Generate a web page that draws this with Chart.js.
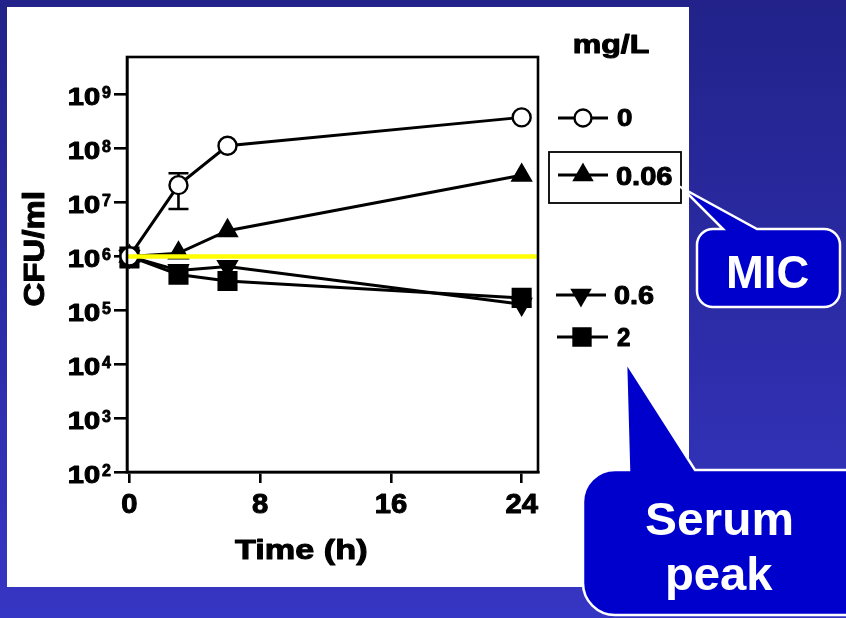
<!DOCTYPE html>
<html><head><meta charset="utf-8">
<script src="https://cdn.jsdelivr.net/npm/chart.js@4.4.1/dist/chart.umd.min.js"></script>
<style>html,body{margin:0;padding:0;background:#2a2aa0;overflow:hidden}canvas{display:block}</style>
</head><body><canvas id="c" width="846" height="618"></canvas>
<script>
// ---- data ----
const times = [0, 3, 6, 24];
const conc0 = [1.0e6, 2.1e7, 1.13e8, 3.8e8];
const conc006 = [1.0e6, 1.15e6, 3.0e6, 3.2e7];
const conc06 = [1.0e6, 5.5e5, 6.5e5, 1.3e5];
const conc2 = [1.0e6, 4.6e5, 3.5e5, 1.7e5];
const err0Low = [6.3e5, 7.6e6, null, null];
const err0High = [1.3e6, 3.5e7, null, null];
const seriesLabels = ['0', '0.06', '0.6', '2'];
const legendTitle = 'mg/L';
const xTicks = [0, 8, 16, 24];
const yExponents = [2, 3, 4, 5, 6, 7, 8, 9];
const inoculum = 1e6;
const xRange = [-0.15, 25];
const yRange = [1e2, Math.pow(10, 9.7)];

const FONT = '"Liberation Sans", Arial, Helvetica, sans-serif';

function spanText(ctx, text, left, right, baseline, size, color, stroke) {
  ctx.save();
  ctx.font = 'bold ' + size + 'px ' + FONT;
  ctx.textAlign = 'left'; ctx.textBaseline = 'alphabetic';
  ctx.fillStyle = color || '#000';
  const m = ctx.measureText(text);
  const vw = m.actualBoundingBoxLeft + m.actualBoundingBoxRight;
  const sx = (right - left) / vw;
  ctx.translate(left + m.actualBoundingBoxLeft * sx, baseline);
  ctx.scale(sx, 1);
  ctx.fillText(text, 0, 0);
  if (stroke) {
    ctx.strokeStyle = color || '#000'; ctx.lineWidth = stroke; ctx.lineJoin = 'round';
    ctx.strokeText(text, 0, 0);
  }
  ctx.restore();
}
function centerText(ctx, text, cx, baseline, size, sx, color, stroke) {
  ctx.save();
  ctx.font = 'bold ' + size + 'px ' + FONT;
  ctx.textAlign = 'center'; ctx.textBaseline = 'alphabetic';
  ctx.fillStyle = color || '#000';
  ctx.translate(cx, baseline); ctx.scale(sx, 1);
  ctx.fillText(text, 0, 0);
  if (stroke) {
    ctx.strokeStyle = color || '#000'; ctx.lineWidth = stroke; ctx.lineJoin = 'round';
    ctx.strokeText(text, 0, 0);
  }
  ctx.restore();
}
function marker(ctx, style, x, y, r, rot, fill) {
  ctx.save();
  ctx.fillStyle = fill; ctx.strokeStyle = '#000'; ctx.lineWidth = 2.4;
  ctx.beginPath();
  if (style === 'circle') {
    ctx.arc(x, y, r, 0, Math.PI * 2);
  } else if (style === 'triangle') {
    const s = rot ? -1 : 1;
    ctx.moveTo(x, y - s * r);
    ctx.lineTo(x + Math.cos(Math.PI / 6) * r, y + s * r / 2);
    ctx.lineTo(x - Math.cos(Math.PI / 6) * r, y + s * r / 2);
    ctx.closePath();
  } else {
    const h = r * Math.SQRT1_2;
    ctx.rect(x - h, y - h, 2 * h, 2 * h);
  }
  ctx.fill(); ctx.stroke();
  ctx.restore();
}
function callout(ctx, x0, y0, x1, y1, r, b1, tip, b2) {
  ctx.save();
  ctx.beginPath();
  ctx.moveTo(x0 + r, y0);
  ctx.lineTo(b1, y0);
  ctx.lineTo(tip[0], tip[1]);
  ctx.lineTo(b2, y0);
  ctx.lineTo(x1 - r, y0);
  ctx.arcTo(x1, y0, x1, y0 + r, r);
  ctx.lineTo(x1, y1 - r);
  ctx.arcTo(x1, y1, x1 - r, y1, r);
  ctx.lineTo(x0 + r, y1);
  ctx.arcTo(x0, y1, x0, y1 - r, r);
  ctx.lineTo(x0, y0 + r);
  ctx.arcTo(x0, y0, x0 + r, y0, r);
  ctx.closePath();
  ctx.fillStyle = '#0000cc';
  ctx.fill();
  ctx.strokeStyle = '#ffffff'; ctx.lineWidth = 2.5; ctx.lineJoin = 'miter';
  ctx.stroke();
  ctx.restore();
}

const pts = arr => times.map((t, i) => ({ x: t, y: arr[i] }));
const seriesStyles = [
  { style: 'circle', r: 9, rot: 0, fill: '#ffffff' },
  { style: 'triangle', r: 10.5, rot: 0, fill: '#000000' },
  { style: 'triangle', r: 10.5, rot: 180, fill: '#000000' },
  { style: 'rect', r: 12.5, rot: 0, fill: '#000000' }
];
const seriesData = [conc0, conc006, conc06, conc2];

const datasets = [{
  label: 'inoculum',
  data: [{ x: xRange[0], y: inoculum }, { x: xRange[1], y: inoculum }],
  borderColor: '#ffff00', borderWidth: 4.5, pointRadius: 0, order: -1, clip: false
}];
seriesData.forEach((arr, i) => {
  const s = seriesStyles[i];
  datasets.push({
    label: seriesLabels[i],
    data: pts(arr),
    borderColor: '#000', borderWidth: 3, tension: 0,
    pointStyle: s.style, pointRadius: s.r, pointRotation: s.rot,
    pointBackgroundColor: s.fill, pointBorderColor: '#000', pointBorderWidth: 2.4,
    order: i, clip: false
  });
});

const artPlugin = {
  id: 'art',
  beforeDraw(chart) {
    const ctx = chart.ctx;
    const g = ctx.createLinearGradient(0, 0, 0, 618);
    g.addColorStop(0, '#22228a');
    g.addColorStop(1, '#3636c4');
    ctx.save();
    ctx.fillStyle = g; ctx.fillRect(0, 0, 846, 618);
    ctx.fillStyle = '#ffffff'; ctx.fillRect(7, 7, 682, 580);
    ctx.restore();
  },
  beforeDatasetsDraw(chart) {
    const ctx = chart.ctx, xs = chart.scales.x, ys = chart.scales.y;
    ctx.save();
    ctx.strokeStyle = '#000'; ctx.lineWidth = 2.6;
    times.forEach((t, i) => {
      if (err0Low[i] == null) return;
      const x = xs.getPixelForValue(t);
      const yl = ys.getPixelForValue(err0Low[i]);
      const yh = ys.getPixelForValue(err0High[i]);
      ctx.beginPath();
      ctx.moveTo(x, yl); ctx.lineTo(x, yh);
      ctx.moveTo(x - 10, yl); ctx.lineTo(x + 10, yl);
      ctx.moveTo(x - 10, yh); ctx.lineTo(x + 10, yh);
      ctx.stroke();
    });
    ctx.restore();
  },
  afterDraw(chart) {
    const ctx = chart.ctx, a = chart.chartArea, xs = chart.scales.x, ys = chart.scales.y;
    // frame
    ctx.save();
    ctx.strokeStyle = '#000'; ctx.lineWidth = 2.6;
    ctx.strokeRect(a.left, a.top, a.right - a.left, a.bottom - a.top);
    ctx.restore();
    // y tick labels
    yExponents.forEach(e => {
      const y = ys.getPixelForValue(Math.pow(10, e));
      spanText(ctx, '10', 69, 100, y + 10.5, 23.5, '#000', 1.0);
      spanText(ctx, String(e), 102, 111, y + 3.5, 16, '#000', 0.8);
    });
    // x tick labels
    xTicks.forEach(t => {
      centerText(ctx, String(t), xs.getPixelForValue(t), 513, 27, 1.08, '#000', 1.0);
    });
    // axis titles
    spanText(ctx, 'Time (h)', 235, 366, 559, 28, '#000', 1.0);
    ctx.save();
    ctx.translate(44, 249); ctx.rotate(-Math.PI / 2);
    spanText(ctx, 'CFU/ml', -56.5, 56.5, 0, 30, '#000', 1.0);
    ctx.restore();
    // legend
    spanText(ctx, legendTitle, 574, 649, 53, 25, '#000', 1.0);
    const rows = [
      { y: 118, mx: 583, l: 558, r: 608, tl: 617, tr: 632, base: 126, fs: 24 },
      { y: 175, mx: 583, l: 558, r: 608, tl: 617, tr: 672, base: 185, fs: 26 },
      { y: 295, mx: 581, l: 556, r: 606, tl: 614, tr: 653, base: 304, fs: 25 },
      { y: 337, mx: 582, l: 557, r: 608, tl: 617, tr: 630, base: 346, fs: 26 }
    ];
    rows.forEach((row, i) => {
      const s = seriesStyles[i];
      ctx.save();
      ctx.strokeStyle = '#000'; ctx.lineWidth = 3;
      ctx.beginPath(); ctx.moveTo(row.l, row.y); ctx.lineTo(row.r, row.y); ctx.stroke();
      ctx.restore();
      marker(ctx, s.style, row.mx, row.y, s.style === 'rect' ? 12 : (s.style === 'circle' ? 8.5 : 10), s.rot, s.fill);
      spanText(ctx, seriesLabels[i], row.tl, row.tr, row.base, row.fs, '#000', 1.0);
    });
    ctx.save();
    ctx.strokeStyle = '#000'; ctx.lineWidth = 1.8;
    ctx.strokeRect(549, 152, 132, 51);
    ctx.restore();
    // callouts
    callout(ctx, 697, 229, 840, 307, 16, 723, [682, 188], 757);
    spanText(ctx, 'MIC', 729, 808, 288, 46, '#ffffff');
    callout(ctx, 583, 470, 880, 615, 32, 629, [626, 362], 695);
    spanText(ctx, 'Serum', 646, 792, 535, 46, '#ffffff');
    spanText(ctx, 'peak', 668, 773, 590, 46, '#ffffff');
  }
};

new Chart(document.getElementById('c'), {
  type: 'line',
  data: { datasets },
  options: {
    responsive: false, animation: false, events: [],
    layout: { padding: { left: 0, top: 57, right: 308, bottom: 0 } },
    plugins: { legend: { display: false }, tooltip: { enabled: false }, title: { display: false } },
    scales: {
      x: {
        type: 'linear', min: xRange[0], max: xRange[1],
        afterBuildTicks: s => { s.ticks = xTicks.map(v => ({ value: v })); },
        afterFit: s => { s.height = 146; },
        ticks: { callback: () => '', autoSkip: false },
        grid: { display: true, drawOnChartArea: false, drawTicks: true, tickLength: 11, tickWidth: 2.6, tickColor: '#000', color: '#000', lineWidth: 2.6 },
        border: { display: true, color: '#000', width: 2.6 }
      },
      y: {
        type: 'logarithmic', min: yRange[0], max: yRange[1],
        afterBuildTicks: s => { s.ticks = yExponents.map(e => ({ value: Math.pow(10, e) })); },
        afterFit: s => { s.width = 127; },
        ticks: { callback: () => '', autoSkip: false },
        grid: { display: true, drawOnChartArea: false, drawTicks: true, tickLength: 13, tickWidth: 2.6, tickColor: '#000', color: '#000', lineWidth: 2.6 },
        border: { display: true, color: '#000', width: 2.6 }
      }
    }
  },
  plugins: [artPlugin]
});
</script>
</body></html>
